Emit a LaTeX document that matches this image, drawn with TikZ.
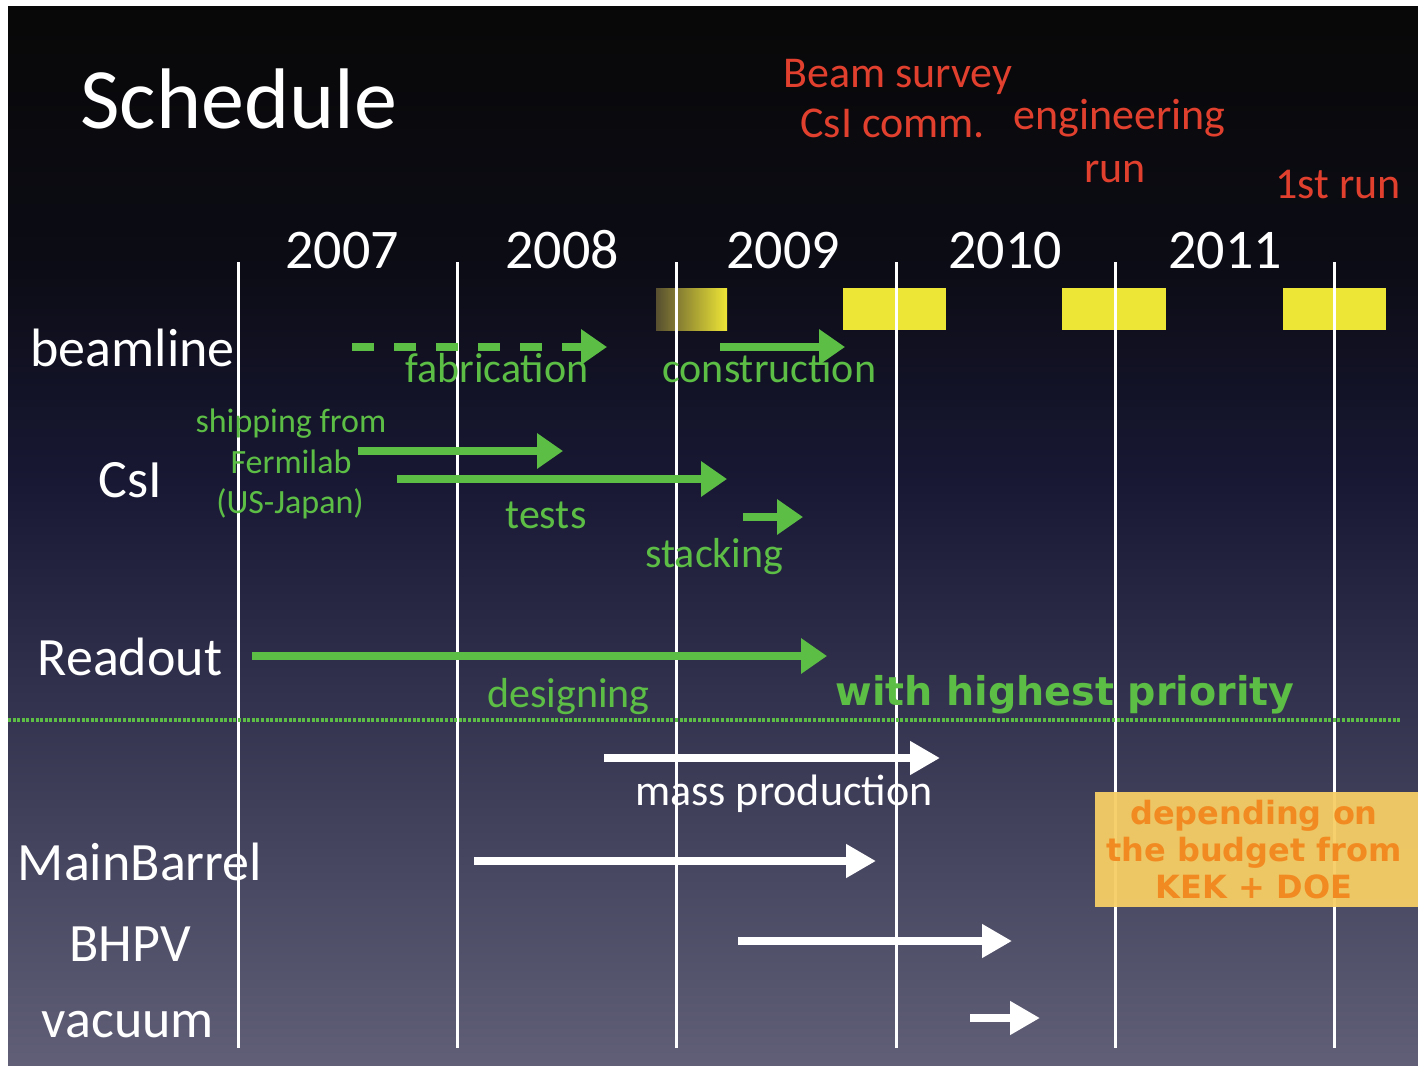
\documentclass[tikz,border=0pt]{standalone}
\usepackage{fontspec}
\setmainfont{Carlito}
\newfontfamily\widefont{DejaVu Sans}
\usetikzlibrary{arrows.meta,positioning}

\definecolor{kgreen}{HTML}{5DBE46}
\definecolor{kred}{HTML}{E2402E}
\definecolor{kyellow}{HTML}{EEE636}
\definecolor{kolive}{HTML}{574F30}
\definecolor{korange}{HTML}{F28A22}
\definecolor{kbox}{HTML}{F6CE65}
\definecolor{bgtop}{HTML}{080808}
\definecolor{bgdark}{HTML}{0C0C16}
\definecolor{bgnavy}{HTML}{181834}
\definecolor{bgmid}{HTML}{34334F}
\definecolor{bgbot}{HTML}{605F77}

\pgfdeclareverticalshading{slidebg}{100bp}{color(0bp)=(bgbot); color(25bp)=(bgbot);
  color(42bp)=(bgmid); color(52.6bp)=(bgnavy); color(62.6bp)=(bgdark);
  color(75bp)=(bgtop); color(100bp)=(bgtop)}

\begin{document}
\begin{tikzpicture}[x=0.5pt,y=-0.5pt,
  every node/.style={inner sep=0pt},
  rowlabel/.style={text=white,font=\fontsize{27}{27}\selectfont,anchor=base},
  year/.style={text=white,font=\fontsize{28}{28}\selectfont,anchor=base},
  milestone/.style={text=kred,font=\fontsize{22}{22}\selectfont,anchor=base west},
  task/.style={text=kgreen,font=\fontsize{21}{21}\selectfont,anchor=base west},
  shiplabel/.style={text=kgreen,font=\fontsize{17}{17}\selectfont,anchor=base},
  yearline/.style={draw=white,line width=1.5pt},
  runbox/.style={fill=kyellow},
  garrow/.style={draw=kgreen,line width=4pt,-{Triangle[length=13pt,width=17pt]}},
  warrow/.style={draw=white,line width=4pt,-{Triangle[length=15pt,width=16pt]}}]

  % slide background
  \fill[white] (0,0) rectangle (1418,1065);
  \shade[shading=slidebg] (8,7) rectangle (1418,1065);
  \useasboundingbox (0,0) rectangle (1418,1065);

  \node[text=white,font=\fontsize{43}{43}\selectfont,anchor=base west] (title) at (80,128) {Schedule};

  % run periods
  \shade[left color=kolive,right color=kyellow] (656,288) rectangle (727,330);
  \fill[runbox] (843,288) rectangle (946,330);
  \fill[runbox] (1062,288) rectangle (1166,330);
  \fill[runbox] (1283,288) rectangle (1386,330);

  \foreach \x in {238,457,676,896,1115,1334}
    \draw[yearline] (\x,262) -- (\x,1048);

  \foreach \yr/\x in {2007/342,2008/562,2009/783,2010/1005,2011/1225}
    \node[year] (y\yr) at (\x,268) {\yr};

  \node[milestone] (survey) at (783,88) {Beam survey};
  \node[milestone] (comm) at (800,138) {CsI comm.};
  \node[milestone] (eng) at (1013,130) {engineering};
  \node[milestone,anchor=base] (engrun) at (1115,182) {run};
  \node[milestone] (first) at (1275,198) {1st run};

  % rows
  \node[rowlabel,anchor=base west] (beam) at (30,366) {beamline};
  \node[rowlabel] (csi) at (130,497) {CsI};
  \node[rowlabel] (readout) at (130,675) {Readout};
  \node[rowlabel] (barrel) at (140,880) {MainBarrel};
  \node[rowlabel] (bhpv) at (130,961) {BHPV};
  \node[rowlabel] (vac) at (128,1037) {vacuum};

  % above the line
  \draw[garrow,dash pattern=on 11pt off 10pt] (352,347) -- (607,347);
  \draw[garrow] (720,347) -- (845,347);
  \draw[garrow] (358,451) -- (563,451);
  \draw[garrow] (397,479) -- (727,479);
  \draw[garrow] (743,517) -- (803,517);
  \draw[garrow] (252,656) -- (827,656);

  \node[task] (fab) at (405,382) {fabrication};
  \node[task] (constr) at (662,382) {construction};
  \node[shiplabel] (ship1) at (291,432) {shipping from};
  \node[shiplabel] (ship2) at (291,473) {Fermilab};
  \node[shiplabel] (ship3) at (290,513) {(US-Japan)};
  \node[task] (tests) at (505,528) {tests};
  \node[task] (stack) at (645,567) {stacking};
  \node[task] (design) at (487,707) {designing};
  \node[task,font=\widefont\bfseries\fontsize{19.8}{19.8}\selectfont] (prio) at (835,705) {with highest priority};

  \draw[kgreen,line width=2pt,dash pattern=on 1.5pt off 0.8pt] (8,720) -- (1400,720);

  % below the line
  \draw[warrow] (604,758) -- (940,758);
  \draw[warrow] (474,861) -- (876,861);
  \draw[warrow] (738,941) -- (1012,941);
  \draw[warrow] (970,1018) -- (1040,1018);
  \node[text=white,font=\fontsize{22}{22}\selectfont,anchor=base west] (mass) at (635,805) {mass production};

  \fill[kbox,opacity=0.95] (1095,792) rectangle (1418,907);
  \node[text=korange,font=\widefont\bfseries\fontsize{16}{18.5}\selectfont,align=center] (budget) at (1254,850)
    {depending on\\the budget from\\KEK + DOE};

\end{tikzpicture}
\end{document}
